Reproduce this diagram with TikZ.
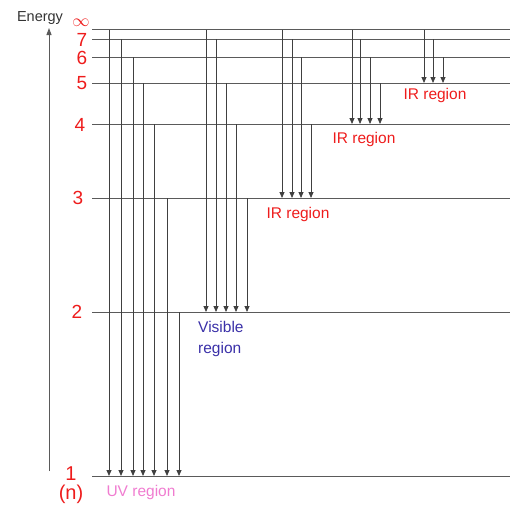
\documentclass[tikz,border=0pt]{standalone}
\usepackage{fontspec}
\setmainfont{Liberation Sans}
\usetikzlibrary{arrows.meta}
\definecolor{lvl}{HTML}{5A5A5A}
\definecolor{redlab}{HTML}{EE1C1C}
\definecolor{vislab}{HTML}{3A30A8}
\definecolor{uvlab}{HTML}{F07CD0}
\begin{document}
\begin{tikzpicture}[x=1pt,y=-1pt,
  level/.style={draw=lvl,line width=0.9pt},
  trans/.style={draw=black!75,line width=0.8pt,-{Triangle[width=5pt,length=6pt]}},
  nlab/.style={text=redlab,font=\fontsize{19}{19}\selectfont,inner sep=0pt,text height=13pt,text depth=0pt},
  rlab/.style={font=\fontsize{15.5}{18}\selectfont,inner sep=0pt}]
\useasboundingbox (0,0) rectangle (515,514);
% energy axis
\coordinate (ax0) at (49,471);
\coordinate (ax1) at (49,28);
\draw[draw=lvl,line width=0.9pt,-{Triangle[width=5pt,length=7pt]}] (ax0) -- (ax1);
\node[text=black!80,font=\fontsize{14.5}{16}\selectfont,inner sep=0pt] (en) at (40,18) {Energy};
% levels
\foreach \n/\y in {inf/29.5,7/39,6/57,5/83,4/124,3/198,2/312,1/476}{
  \coordinate (L\n a) at (92,\y);
  \coordinate (L\n b) at (510,\y);
  \draw[level] (L\n a) -- (L\n b);
}
% level labels
\node[text=redlab,font=\fontsize{17}{17}\selectfont,inner sep=0pt] (ninf) at (81,23) {$\infty$};
\node[nlab] (n7) at (82,39.5) {7};
\node[nlab] (n6) at (82,57.5) {6};
\node[nlab] (n5) at (82,83) {5};
\node[nlab] (n4) at (80,125) {4};
\node[nlab] (n3) at (78,198) {3};
\node[nlab] (n2) at (77,312) {2};
\node[nlab,font=\fontsize{20}{20}\selectfont] (n1) at (71,474) {1};
\node[text=redlab,font=\fontsize{20}{20}\selectfont,inner sep=0pt] (nn) at (71,494) {(n)};
% transitions: x / upper y / lower y
\foreach \x/\yu/\yl [count=\i] in {
  109/29.5/476, 121/39/476, 133/57/476, 143/83/476, 154/124/476, 167/198/476, 179/312/476,
  206/29.5/312, 216/39/312, 226/83/312, 236/124/312, 247/198/312,
  282/29.5/198, 292/39/198, 301/57/198, 311/124/198,
  352/29.5/124, 360/39/124, 370/57/124, 380/83/124,
  424/29.5/83, 433/39/83, 443/57/83}{
  \coordinate (s\i) at (\x,\yu);
  \coordinate (e\i) at (\x,\yl);
  \draw[trans] (s\i) -- (e\i);
}
% region labels
\node[rlab,text=redlab] (ir1) at (435,95) {IR region};
\node[rlab,text=redlab] (ir2) at (364,139) {IR region};
\node[rlab,text=redlab] (ir3) at (298,214) {IR region};
\node[rlab,text=vislab,align=left,anchor=north west,font=\fontsize{15.5}{21.5}\selectfont] (vis) at (198,321) {Visible\\region};
\node[rlab,text=uvlab] (uv) at (141,492) {UV region};
\end{tikzpicture}
\end{document}
